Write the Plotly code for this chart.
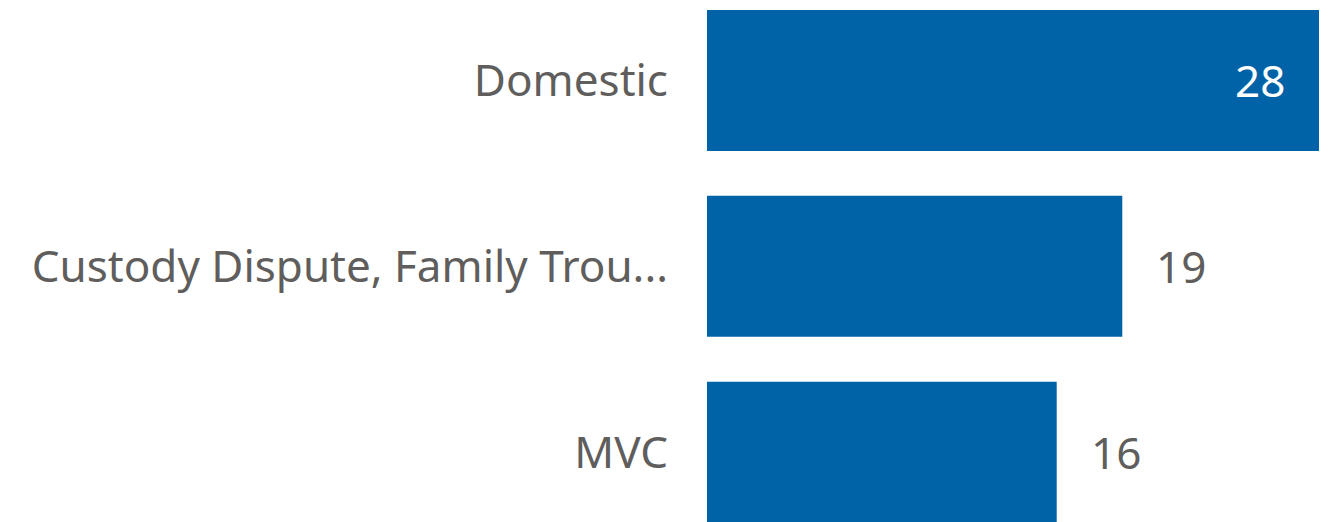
import plotly.graph_objects as go

categories = ["Domestic", "Custody Dispute, Family Trou...", "MVC"]
values = [28, 19, 16]

bar_color = "#0063A7"
text_gray = "#605E5C"
font_family = "Segoe UI, Noto Sans, Open Sans, sans-serif"
font_size = 44

fig = go.Figure(
    go.Bar(
        x=values,
        y=categories,
        orientation="h",
        marker=dict(color=bar_color, line=dict(width=0)),
        hoverinfo="skip",
    )
)

xmax = max(values) * 632 / 612
annotations = []
for cat, v in zip(categories, values):
    inside = v == max(values)
    annotations.append(
        dict(
            x=v,
            y=cat,
            xref="x",
            yref="y",
            text=str(v),
            showarrow=False,
            xanchor="right" if inside else "left",
            xshift=-32 if inside else 32,
            font=dict(family=font_family, size=font_size, color="white" if inside else text_gray),
        )
    )

fig.update_layout(
    width=1339,
    height=522,
    margin=dict(l=707, r=0, t=0, b=0),
    paper_bgcolor="white",
    plot_bgcolor="white",
    bargap=0.242,
    showlegend=False,
    annotations=annotations,
    xaxis=dict(range=[0, xmax], visible=False, showgrid=False, zeroline=False),
    yaxis=dict(
        autorange=False,
        range=[2.376, -0.433],
        showgrid=False,
        zeroline=False,
        showline=False,
        ticks="",
        ticklabelstandoff=38,
        tickfont=dict(family=font_family, size=font_size, color=text_gray),
    ),
)

fig.write_html(
    "out.html",
    config={"displayModeBar": False},
    post_script="document.body.style.margin='0';document.body.style.overflow='hidden';",
)
